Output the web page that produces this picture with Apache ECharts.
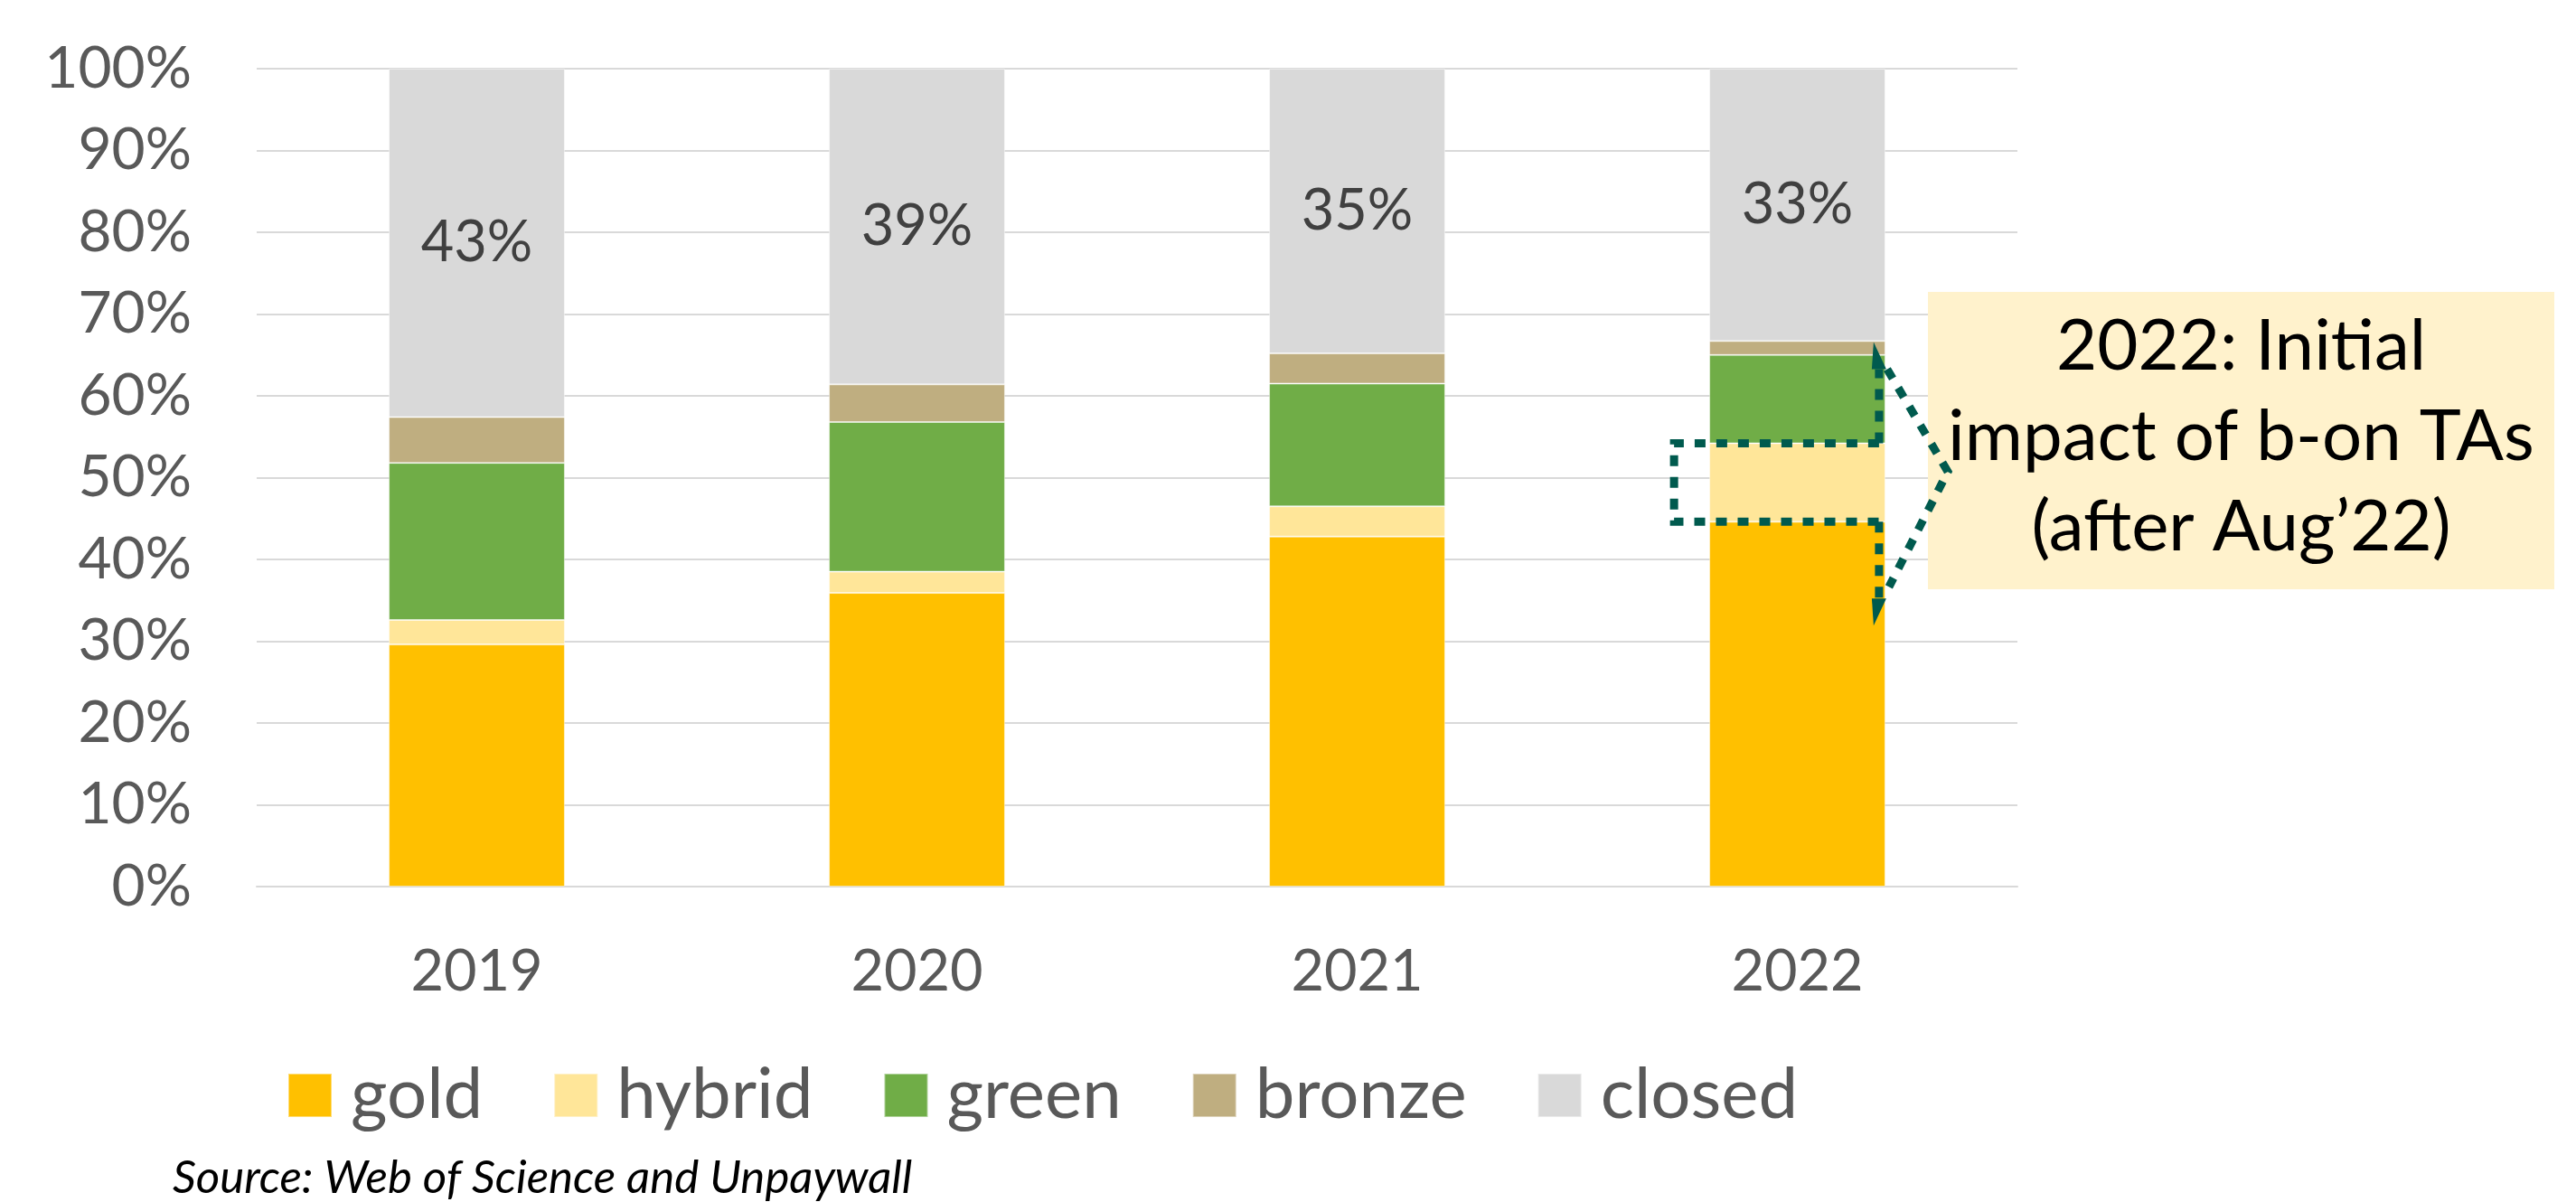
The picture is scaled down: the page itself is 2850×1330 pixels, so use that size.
<!DOCTYPE html>
<html>
<head>
<meta charset="utf-8">
<script src="https://cdn.jsdelivr.net/npm/echarts@6/dist/echarts.min.js"></script>
<style>
  html, body { margin: 0; padding: 0; background: #fff; }
  #chart { width: 2850px; height: 1330px; }
</style>
</head>
<body>
<div id="chart"></div>
<script>
const years = ['2019', '2020', '2021', '2022']
const gold = [29.6, 35.9, 42.8, 44.6]
const hybrid = [3.0, 2.6, 3.7, 9.6]
const green = [19.2, 18.3, 15.0, 10.8]
const bronze = [5.6, 4.6, 3.7, 1.7]
const closed = [42.6, 38.6, 34.8, 33.3]

const calloutLines = ['2022: Initial', 'impact of b-on TAs', '(after Aug\u201922)']
const sourceNote = 'Source: Web of Science and Unpaywall'

const font = 'Lato, "Open Sans", sans-serif'
const teal = '#005A4E'

const colors = {
  gold: '#FFC000',
  hybrid: '#FFE699',
  green: '#70AD47',
  bronze: '#BFAE80',
  closed: '#D9D9D9',
}

const chart = echarts.init(document.getElementById('chart'))

function barSeries(name, data, withLabel) {
  return {
    name,
    type: 'bar',
    stack: 'total',
    data,
    barWidth: '40%',
    itemStyle: { color: colors[name], borderColor: 'rgba(255,255,255,0.45)', borderWidth: 1 },
    label: withLabel
      ? {
          show: true,
          position: 'inside',
          formatter: (p) => Math.round(p.value) + '%',
          fontFamily: font,
          fontSize: 63,
          color: '#404040',
        }
      : { show: false },
    emphasis: { disabled: true },
  }
}

chart.setOption({
  animation: false,
  grid: { left: 284, right: 618, top: 76, bottom: 349 },
  legend: {
    data: ['gold', 'hybrid', 'green', 'bronze', 'closed'],
    left: 313,
    top: 1168,
    icon: 'rect',
    itemWidth: 48,
    itemHeight: 48,
    itemGap: 78,
    textStyle: {
      fontFamily: font,
      fontSize: 78,
      lineHeight: 78,
      color: '#595959',
      padding: [0, 0, 0, 16],
    },
  },
  xAxis: {
    type: 'category',
    data: years,
    axisLine: { lineStyle: { color: '#D9D9D9', width: 2 } },
    axisTick: { show: false },
    axisLabel: { fontFamily: font, fontSize: 63, color: '#595959', margin: 63 },
  },
  yAxis: {
    type: 'value',
    min: 0,
    max: 100,
    interval: 10,
    axisLine: { show: false },
    axisTick: { show: false },
    axisLabel: { formatter: '{value}%', fontFamily: font, fontSize: 64, color: '#595959', margin: 72 },
    splitLine: { lineStyle: { color: '#D9D9D9', width: 2 } },
  },
  series: [
    barSeries('gold', gold, false),
    barSeries('hybrid', hybrid, false),
    barSeries('green', green, false),
    barSeries('bronze', bronze, false),
    barSeries('closed', closed, true),
  ],
})

// annotation around the 2022 hybrid segment, placed from the axes
const last = years.length - 1
const xc = chart.convertToPixel({ xAxisIndex: 0 }, years[last])
const band = xc - chart.convertToPixel({ xAxisIndex: 0 }, years[last - 1])
const barR = xc + 0.2 * band
const yGold = chart.convertToPixel({ yAxisIndex: 0 }, gold[last])
const yHyb = chart.convertToPixel({ yAxisIndex: 0 }, gold[last] + hybrid[last])
const rectL = xc - 0.28 * band
const vx = barR - 7

const dotted = { stroke: teal, lineWidth: 9, lineDash: [12, 12], fill: null }

const box = { x: 2133, y: 323, w: 693, h: 329 }
const tipX = box.x + 22
const tipY = (yGold + yHyb) / 2 - 12

chart.setOption({
  graphic: [
    {
      type: 'rect',
      shape: { x: box.x, y: box.y, width: box.w, height: box.h },
      style: { fill: '#FFF2CC' },
      z: 10,
    },
    {
      type: 'text',
      x: box.x + box.w / 2,
      y: box.y + box.h / 2 - 4,
      style: {
        text: calloutLines.join('\n'),
        fontFamily: font,
        fontSize: 78,
        lineHeight: 100,
        fill: '#000',
        align: 'center',
        verticalAlign: 'middle',
      },
      z: 11,
    },
    {
      type: 'polyline',
      shape: { points: [[vx, yHyb], [rectL, yHyb], [rectL, yGold], [vx, yGold]] },
      style: dotted,
      z: 12,
    },
    {
      type: 'polyline',
      shape: { points: [[vx, yHyb], [vx, yHyb - 82]] },
      style: dotted,
      z: 12,
    },
    {
      type: 'polyline',
      shape: { points: [[vx, yGold], [vx, yGold + 85]] },
      style: dotted,
      z: 12,
    },
    {
      type: 'polygon',
      shape: { points: [[vx - 6, yHyb - 112], [vx + 8, yHyb - 82], [vx - 8, yHyb - 82]] },
      style: { fill: teal },
      z: 12,
    },
    {
      type: 'polygon',
      shape: { points: [[vx - 6, yGold + 115], [vx + 8, yGold + 85], [vx - 8, yGold + 85]] },
      style: { fill: teal },
      z: 12,
    },
    {
      type: 'polyline',
      shape: { points: [[barR + 2, yHyb - 82], [tipX, tipY], [barR + 4, yGold + 72]] },
      style: dotted,
      z: 12,
    },
    {
      type: 'text',
      left: 191,
      top: 1278,
      style: {
        text: sourceNote,
        fontFamily: font,
        fontStyle: 'italic',
        fontSize: 51,
        fill: '#000',
      },
    },
  ],
})
</script>
</body>
</html>
